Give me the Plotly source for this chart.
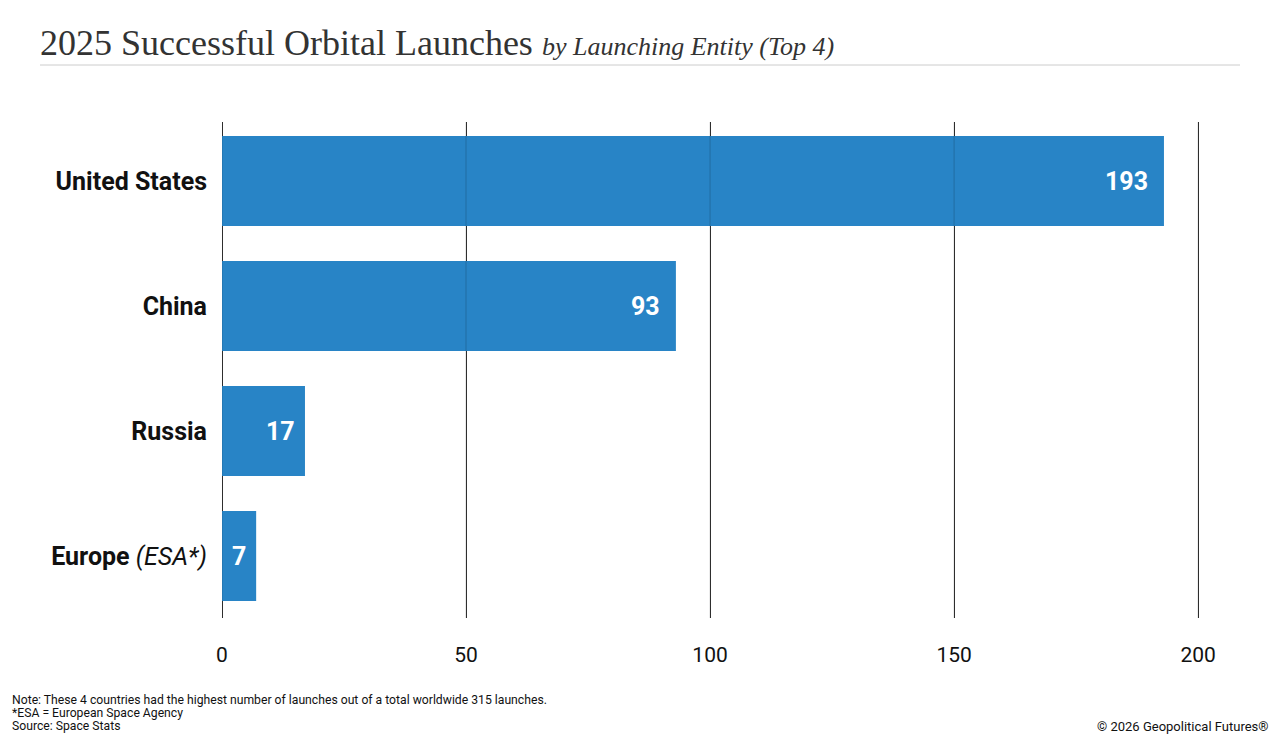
import plotly.graph_objects as go

categories = ["United States", "China", "Russia", "Europe"]
category_labels = ["<b>United States</b>", "<b>China</b>", "<b>Russia</b>", "<b>Europe</b> <i>(ESA*)</i>"]
launches = [193, 93, 17, 7]
x_ticks = [0, 50, 100, 150, 200]

COND = "Roboto, sans-serif"
BAR = "#2884C6"
GRID = "#333333"

# page body adds an 8px offset, so the figure is drawn 8px smaller
W, H = 1272, 734
L, R, T, B = 214, 77, 114, 124
PW, PH = W - L - R, H - T - B


def px(xr):
    return (xr - 8 - L) / PW


def py(yr):
    return (H - B - (yr - 8)) / PH


fig = go.Figure()
fig.add_trace(go.Bar(
    x=launches, y=categories, orientation="h",
    marker=dict(color=BAR, line=dict(width=0)),
    hoverinfo="skip",
))

for c, v in zip(categories, launches):
    fig.add_annotation(x=v, y=c, xref="x", yref="y", text=f"<b>{v}</b>",
                       showarrow=False, xanchor="right", xshift=-8 if v < 20 else -14,
                       font=dict(family=COND, size=25, color="white"))

# faint gridline overlay across the bars
for t in x_ticks:
    fig.add_shape(type="line", xref="x", yref="paper", x0=t, x1=t, y0=0, y1=1,
                  line=dict(color="rgba(0,0,0,0.18)", width=1), layer="above")

fig.update_layout(
    width=W, height=H,
    paper_bgcolor="white", plot_bgcolor="white",
    margin=dict(l=L, r=R, t=T, b=B),
    bargap=0.28,
    showlegend=False,
    xaxis=dict(range=[0, 201], tickvals=x_ticks, showgrid=True, gridcolor=GRID,
               gridwidth=1, zeroline=True, zerolinecolor=GRID, zerolinewidth=1,
               showline=False, ticks="", ticklabelstandoff=22,
               tickfont=dict(family=COND, size=21, color="#111111"), fixedrange=True),
    yaxis=dict(categoryorder="array", categoryarray=categories, range=[3.496, -0.472],
               tickvals=categories, ticktext=category_labels, showgrid=False, zeroline=False,
               ticks="", ticklabelstandoff=14,
               tickfont=dict(family=COND, size=25, color="#111111"), fixedrange=True),
)

fig.add_annotation(xref="paper", yref="paper", x=px(38), y=py(43), xanchor="left", yanchor="middle",
                   showarrow=False, align="left",
                   text="2025 Successful Orbital Launches <span style='font-size:26px'><i>by Launching Entity (Top 4)</i></span>",
                   font=dict(family="Liberation Serif, serif", size=36, color="#333333"))
fig.add_shape(type="line", xref="paper", yref="paper", x0=px(40), x1=px(1240),
              y0=py(65), y1=py(65), line=dict(color="#cccccc", width=1))

note_lines = [
    "Note: These 4 countries had the highest number of launches out of a total worldwide 315 launches.",
    "*ESA = European Space Agency",
    "Source: Space Stats",
]
note_y = [700, 713, 726]
for t, yy in zip(note_lines, note_y):
    fig.add_annotation(xref="paper", yref="paper", x=px(10), y=py(yy), xanchor="left", yanchor="middle",
                       showarrow=False, align="left", text=t,
                       font=dict(family=COND, size=12.2, color="#111111"))
fig.add_annotation(xref="paper", yref="paper", x=px(1271), y=py(726), xanchor="right", yanchor="middle",
                   showarrow=False, align="right", text="© 2026 Geopolitical Futures®",
                   font=dict(family=COND, size=13, color="#111111"))

fig.write_html("out.html")
